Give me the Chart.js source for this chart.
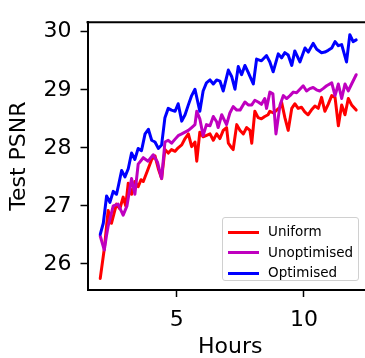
<!DOCTYPE html>
<html>
<head>
<meta charset="utf-8">
<script src="https://cdn.jsdelivr.net/npm/chart.js@4"></script>
<style>
  html, body { margin: 0; padding: 0; background: #fff; overflow: hidden; }
  #wrap { position: relative; width: 365px; height: 358px; overflow: hidden; }
  #chart { position: absolute; left: 0; top: 0; }
  #legend {
    position: absolute; left: 222px; top: 217px; width: 137px; height: 64px;
    border: 1px solid #d0d0d0; border-radius: 3px; background: rgba(255,255,255,0.8);
    font-family: "DejaVu Sans", sans-serif; font-size: 13.5px; color: #000;
    box-sizing: border-box; padding-top: 3px;
  }
  #legend .row { height: 20.5px; line-height: 20.5px; white-space: nowrap; }
  #legend .swatch { display: inline-block; width: 31px; height: 3px; margin: 0 9px 0 5px; vertical-align: middle; }
</style>
</head>
<body>
<div id="wrap">
  <canvas id="chart" width="375" height="358"></canvas>
  <div id="legend"></div>
</div>
<script>
// hours / PSNR
var uniformHours = [2.0, 2.16, 2.31, 2.44, 2.57, 2.64, 2.77, 2.9, 3.0, 3.1, 3.23, 3.36, 3.49, 3.6, 3.69, 3.85, 4.02, 4.15, 4.28, 4.41, 4.54, 4.67, 4.8, 4.94, 5.06, 5.2, 5.33, 5.46, 5.59, 5.72, 5.79, 5.91, 6.04, 6.2, 6.31, 6.44, 6.57, 6.7, 6.83, 6.96, 7.03, 7.16, 7.22, 7.36, 7.49, 7.62, 7.75, 7.88, 7.95, 8.07, 8.2, 8.33, 8.46, 8.59, 8.66, 8.8, 8.93, 9.06, 9.12, 9.25, 9.38, 9.52, 9.64, 9.77, 9.9, 10.03, 10.16, 10.29, 10.43, 10.56, 10.69, 10.82, 10.95, 11.09, 11.22, 11.35, 11.48, 11.61, 11.74, 11.87, 12.05];
var uniformPSNR = [25.75, 26.26, 26.92, 26.70, 26.92, 27.03, 26.95, 27.15, 27.0, 27.39, 27.20, 27.42, 27.33, 27.45, 27.42, 27.6, 27.80, 27.86, 27.64, 27.47, 27.97, 27.91, 27.97, 27.94, 28.0, 28.05, 28.16, 28.24, 28.02, 28.1, 27.77, 28.27, 28.19, 28.22, 28.24, 28.13, 28.24, 28.16, 28.30, 28.35, 28.08, 28.0, 27.97, 28.40, 28.3, 28.24, 28.35, 28.3, 28.08, 28.63, 28.52, 28.5, 28.54, 28.57, 28.63, 28.6, 28.65, 28.7, 28.79, 28.52, 28.30, 28.68, 28.76, 28.68, 28.7, 28.62, 28.57, 28.65, 28.72, 28.68, 28.87, 28.63, 28.75, 28.90, 28.87, 28.38, 28.74, 28.57, 28.85, 28.74, 28.65];

var unoptHours = [2.0, 2.16, 2.25, 2.31, 2.51, 2.7, 2.9, 3.05, 3.23, 3.36, 3.49, 3.69, 3.88, 4.08, 4.25, 4.41, 4.54, 4.67, 4.8, 4.94, 5.06, 5.2, 5.33, 5.46, 5.59, 5.72, 5.79, 5.91, 6.04, 6.17, 6.31, 6.44, 6.57, 6.63, 6.77, 6.96, 7.09, 7.22, 7.36, 7.49, 7.68, 7.81, 7.95, 8.07, 8.2, 8.33, 8.46, 8.53, 8.66, 8.78, 8.9, 9.06, 9.19, 9.32, 9.45, 9.58, 9.71, 9.84, 9.97, 10.1, 10.23, 10.36, 10.49, 10.62, 10.75, 10.89, 11.09, 11.22, 11.35, 11.48, 11.61, 11.74, 11.87, 12.05];
var unoptPSNR = [26.48, 26.24, 26.5, 26.65, 27.0, 27.03, 26.84, 27.0, 27.47, 27.20, 27.72, 27.83, 27.77, 27.88, 27.75, 27.47, 28.1, 28.13, 28.08, 28.15, 28.21, 28.24, 28.27, 28.3, 28.35, 28.40, 28.63, 28.5, 28.21, 28.40, 28.38, 28.54, 28.45, 28.35, 28.57, 28.40, 28.6, 28.71, 28.65, 28.65, 28.79, 28.74, 28.74, 28.82, 28.79, 28.75, 28.85, 28.68, 28.96, 28.93, 28.24, 28.74, 28.90, 28.85, 28.9, 28.96, 28.95, 29.01, 29.07, 28.98, 29.02, 29.04, 29.0, 28.98, 29.02, 29.07, 29.12, 28.90, 29.1, 28.85, 29.10, 28.98, 29.10, 29.26];

var optHours = [2.0, 2.12, 2.25, 2.38, 2.51, 2.64, 2.72, 2.84, 2.97, 3.1, 3.23, 3.36, 3.49, 3.62, 3.76, 3.89, 4.02, 4.15, 4.28, 4.41, 4.54, 4.67, 4.8, 4.94, 5.06, 5.2, 5.33, 5.46, 5.59, 5.72, 5.91, 6.04, 6.17, 6.31, 6.44, 6.57, 6.7, 6.83, 7.03, 7.16, 7.29, 7.42, 7.55, 7.68, 7.81, 8.01, 8.14, 8.33, 8.53, 8.66, 8.79, 8.99, 9.12, 9.25, 9.38, 9.52, 9.64, 9.84, 10.04, 10.17, 10.36, 10.5, 10.69, 10.82, 10.95, 11.09, 11.22, 11.35, 11.48, 11.67, 11.8, 11.93, 12.05];
var optPSNR = [26.51, 26.70, 27.17, 27.06, 27.25, 27.2, 27.36, 27.61, 27.50, 27.64, 27.91, 27.80, 27.99, 27.95, 28.24, 28.32, 28.13, 28.1, 27.99, 28.05, 28.52, 28.68, 28.65, 28.63, 28.76, 28.46, 28.57, 28.74, 28.90, 29.01, 28.63, 28.98, 29.12, 29.17, 29.1, 29.17, 29.15, 28.98, 29.34, 29.23, 29.01, 29.40, 29.26, 29.42, 29.3, 29.10, 29.53, 29.5, 29.59, 29.48, 29.31, 29.62, 29.55, 29.64, 29.6, 29.42, 29.67, 29.48, 29.72, 29.65, 29.80, 29.7, 29.64, 29.65, 29.68, 29.72, 29.83, 29.76, 29.78, 29.48, 29.95, 29.83, 29.86];

var seriesNames = ['Uniform', 'Unoptimised', 'Optimised'];
var seriesColors = ['#ff0000', '#bf00bf', '#0000ff'];
var xTicks = [5, 10];
var yTicks = [26, 27, 28, 29, 30];

function pairs(xs, ys) {
    return xs.map(function (x, i) { return { x: x, y: ys[i] }; });
}

var font = 'DejaVu Sans';

// matplotlib style top spine
var topSpine = {
    id: 'topSpine',
    afterDraw: function (chart) {
        var a = chart.chartArea, ctx = chart.ctx;
        ctx.save();
        ctx.strokeStyle = '#000';
        ctx.lineWidth = 2;
        ctx.beginPath();
        ctx.moveTo(a.left - 1, a.top);
        ctx.lineTo(a.right + 1, a.top);
        ctx.stroke();
        ctx.restore();
    }
};

var chart = new Chart(document.getElementById('chart').getContext('2d'), {
    type: 'line',
    data: {
        datasets: [
            { label: seriesNames[0], data: pairs(uniformHours, uniformPSNR), borderColor: seriesColors[0], order: 3 },
            { label: seriesNames[1], data: pairs(unoptHours, unoptPSNR), borderColor: seriesColors[1], order: 2 },
            { label: seriesNames[2], data: pairs(optHours, optPSNR), borderColor: seriesColors[2], order: 1 }
        ]
    },
    options: {
        responsive: false,
        animation: false,
        devicePixelRatio: 1,
        layout: { padding: { left: 0, top: 10, right: 2, bottom: 0 } },
        elements: {
            line: { borderWidth: 3, tension: 0, fill: false, borderJoinStyle: 'round', borderCapStyle: 'round' },
            point: { radius: 0 }
        },
        plugins: { legend: { display: false }, tooltip: { enabled: false } },
        scales: {
            x: {
                type: 'linear',
                min: 1.5,
                max: 12.71,
                afterBuildTicks: function (s) { s.ticks = xTicks.map(function (v) { return { value: v }; }); },
                afterFit: function (s) { s.height = 68; },
                ticks: { color: '#000', font: { family: font, size: 22 }, padding: 10, maxRotation: 0 },
                grid: { drawOnChartArea: false, drawTicks: true, tickLength: 7, tickWidth: 1.5, tickColor: '#000' },
                border: { display: true, color: '#000', width: 2 },
                title: { display: true, text: 'Hours', color: '#000', font: { family: font, size: 22, lineHeight: 1 }, padding: { top: 0, bottom: 0 } }
            },
            y: {
                min: 25.55,
                max: 30.165,
                afterBuildTicks: function (s) { s.ticks = yTicks.map(function (v) { return { value: v }; }); },
                afterFit: function (s) { s.width = 87.5; },
                ticks: { color: '#000', font: { family: font, size: 22 }, padding: 9 },
                grid: { drawOnChartArea: false, drawTicks: true, tickLength: 7, tickWidth: 1.5, tickColor: '#000' },
                border: { display: true, color: '#000', width: 2 },
                title: { display: true, text: 'Test PSNR', color: '#000', font: { family: font, size: 22, lineHeight: 1 }, padding: { top: 8, bottom: 0 } }
            }
        }
    },
    plugins: [topSpine]
});

// legend box in the lower right of the plot
var legendEl = document.getElementById('legend');
chart.data.datasets.forEach(function (ds) {
    var row = document.createElement('div');
    row.className = 'row';
    var sw = document.createElement('span');
    sw.className = 'swatch';
    sw.style.background = ds.borderColor;
    row.appendChild(sw);
    row.appendChild(document.createTextNode(ds.label));
    legendEl.appendChild(row);
});
</script>
</body>
</html>
